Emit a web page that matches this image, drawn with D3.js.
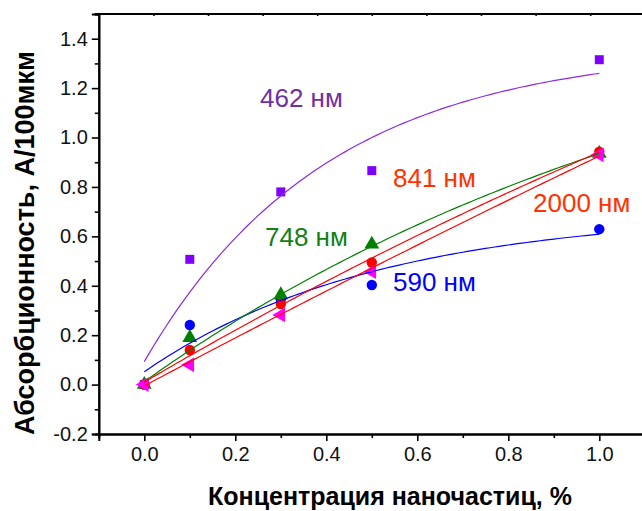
<!DOCTYPE html>
<html>
<head>
<meta charset="utf-8">
<script src="https://cdn.jsdelivr.net/npm/d3@7"></script>
<style>
  html, body { margin: 0; padding: 0; background: #fff; }
  svg { display: block; font-family: "Liberation Sans", Arial, sans-serif; }
</style>
</head>
<body>
<svg id="chart" width="642" height="511"></svg>
<script>
// Concentration of nanoparticles, %
const concentrations = [0, 0.1, 0.3, 0.5, 1.0];

// Wavelength series
const seriesNames = ["462 нм", "590 нм", "748 нм", "841 нм", "2000 нм"];
const abs462  = [0.00, 0.507, 0.780, 0.866, 1.315];
const abs590  = [0.00, 0.241, 0.345, 0.403, 0.629];
const abs748  = [0.00, 0.190, 0.363, 0.568, 0.935];
const abs841  = [0.00, 0.140, 0.326, 0.494, 0.943];
const abs2000 = [0.00, 0.080, 0.282, 0.457, 0.930];

// Fit coefficients, y = y0 + A * (1 - exp(-x / t)), one per series
const fitY0 = [0.093, 0.052, 0.012, 0.010, -0.005];
const fitA  = [1.271, 0.648, 1.743, 3.460, 9.400];
const fitT  = [0.400, 0.510, 1.326, 3.190, 9.600];

// Axis ticks
const xTickLabels = ["0.0", "0.2", "0.4", "0.6", "0.8", "1.0"];
const yTickLabels = ["-0.2", "0.0", "0.2", "0.4", "0.6", "0.8", "1.0", "1.2", "1.4"];

const svg = d3.select("#chart");

const x = d3.scaleLinear().domain([-0.1, 1.1]).range([98.8, 644.8]);
const y = d3.scaleLinear().domain([-0.2, 1.5]).range([434, 14]);
// top frame carries its own evenly spaced ticks
const xTop = d3.scaleLinear().domain([0, 1]).range([98.8, 644.8]);

const values = [abs462, abs590, abs748, abs841, abs2000];
const markerColors = ["#8000ff", "#0000ff", "#008000", "#ff0000", "#ff00ff"];
const lineColors   = ["#8a2be2", "#0000ff", "#008000", "#ff0000", "#ff0000"];
const labelColors  = ["#7030a0", "#0000ff", "#138013", "#ff3300", "#ff3300"];
const labelPos = [[260, 107], [393, 291], [265, 246], [393, 187], [533, 212]];
const symbols = [d3.symbolSquare, d3.symbolCircle, d3.symbolTriangle, d3.symbolCircle, d3.symbolTriangle];
const symbolSizes = [81, 85, 95, 85, 95];
const symbolRot = [0, 0, 0, 0, -90];

// axes
const yMajor = yTickLabels.map(Number);
const yMinor = d3.range(-0.1, 1.55, 0.2).map(v => +v.toFixed(2));
const xMajor = xTickLabels.map(Number);
const xMinor = [-0.1, 0.1, 0.3, 0.5, 0.7, 0.9];

const gY = svg.append("g").attr("transform", `translate(${x(-0.1)},0)`);
gY.call(d3.axisLeft(y).tickValues(yMajor).tickFormat((d, i) => yTickLabels[i]).tickSize(7).tickPadding(4));
gY.append("g").call(d3.axisLeft(y).tickValues(yMinor).tickFormat("").tickSize(4));

const gX = svg.append("g").attr("transform", `translate(0,${y(-0.2)})`);
gX.call(d3.axisBottom(x).tickValues(xMajor).tickFormat((d, i) => xTickLabels[i]).tickSize(7).tickPadding(6));
gX.append("g").call(d3.axisBottom(x).tickValues(xMinor).tickFormat("").tickSize(4));

const gT = svg.append("g").attr("transform", `translate(0,${y(1.5)})`);
gT.call(d3.axisBottom(xTop).tickValues(d3.range(1, 11).map(i => i / 10)).tickFormat("").tickSize(2));

svg.selectAll(".domain").attr("stroke", "#000").attr("stroke-width", 2);
svg.selectAll(".tick line").attr("stroke", "#000").attr("stroke-width", 1.6);
svg.selectAll(".tick text").attr("font-size", 20).attr("fill", "#111")
  .attr("font-family", "Liberation Sans, Arial, sans-serif");
gT.select(".domain").attr("d", `M${xTop(0) - 4},0H642`);

// markers
values.forEach((vals, s) => {
  svg.append("g").selectAll("path")
    .data(vals)
    .join("path")
    .attr("d", d3.symbol().type(symbols[s]).size(symbolSizes[s]))
    .attr("transform", (d, i) => `translate(${x(concentrations[i])},${y(d)}) rotate(${symbolRot[s]})`)
    .attr("fill", markerColors[s]);
});

// fitted curves
const line = d3.line().x(d => x(d[0])).y(d => y(d[1]));
const xs = d3.range(0, 101).map(i => i / 100);
values.forEach((vals, s) => {
  const pts = xs.map(v => [v, fitY0[s] + fitA[s] * (1 - Math.exp(-v / fitT[s]))]);
  svg.append("path").datum(pts)
    .attr("d", line)
    .attr("fill", "none")
    .attr("stroke", lineColors[s])
    .attr("stroke-width", 1.2);
});

// series labels
seriesNames.forEach((name, s) => {
  svg.append("text")
    .attr("x", labelPos[s][0]).attr("y", labelPos[s][1])
    .attr("font-size", 26)
    .attr("fill", labelColors[s])
    .text(name);
});

// axis titles
svg.append("text")
  .attr("transform", "translate(34,243) rotate(-90)")
  .attr("text-anchor", "middle")
  .attr("font-size", 27).attr("font-weight", "bold")
  .text("Абсорбционность, А/100мкм");

svg.append("text")
  .attr("x", 390).attr("y", 505)
  .attr("text-anchor", "middle")
  .attr("font-size", 25).attr("font-weight", "bold")
  .text("Концентрация наночастиц, %");
</script>
</body>
</html>
